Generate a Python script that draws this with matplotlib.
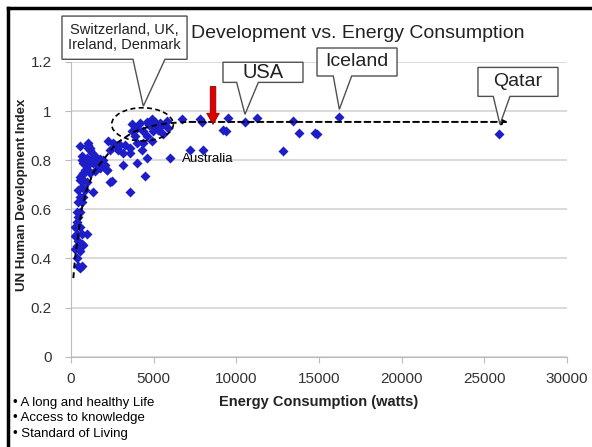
import matplotlib.pyplot as plt
import numpy as np
from matplotlib.patches import Ellipse, Polygon
from matplotlib.lines import Line2D
from matplotlib.ticker import FuncFormatter

plt.rcParams['font.family'] = ['Liberation Sans', 'DejaVu Sans']

# energy use per person (watts) and UN HDI
energy = [242, 544, 343, 645, 948, 746, 242, 544, 343, 645, 443, 544, 343, 443, 242, 645,
          343, 443, 544, 343, 645, 443, 746, 544, 847, 645, 443, 948, 746, 544, 645, 847,
          1048, 1149, 948, 746, 645, 847, 1048, 1149, 1351, 1552, 1653, 1754, 1956, 2056, 2157, 1452,
          1351, 1149, 948, 1250, 1048, 2359, 3568, 1351, 2560, 2359, 2863, 3165, 3568, 3165,
          3972, 4274, 4476, 4577, 4879, 5988, 2964, 3266, 3568, 2661, 2258, 3972, 4375,
          3670, 4173, 4577, 4879, 5383, 5786, 5887, 3670, 4375, 4980, 5282, 5584, 4000, 4700,
          5100, 5500, 3900, 4600, 5000,
          544, 1048, 1149, 645, 847, 1452, 1754, 1956, 2157, 2460, 746, 544,
          6695, 7800, 7900, 9500, 10520, 11250, 13430, 9200, 9400, 7200, 8000, 12830,
          13800, 14760, 14900, 16200, 25900]
hdi = [0.53, 0.53, 0.50, 0.50, 0.50, 0.456, 0.44, 0.43, 0.40, 0.37, 0.37, 0.36, 0.45, 0.47, 0.49, 0.46,
       0.55, 0.57, 0.59, 0.59, 0.63, 0.63, 0.65, 0.65, 0.68, 0.69, 0.68, 0.71, 0.72, 0.73, 0.74, 0.76,
       0.76, 0.75, 0.78, 0.79, 0.80, 0.80, 0.85, 0.84, 0.81, 0.80, 0.78, 0.77, 0.80, 0.78, 0.76, 0.755,
       0.79, 0.79, 0.81, 0.83, 0.87, 0.71, 0.67, 0.67, 0.87, 0.84, 0.84, 0.83, 0.83, 0.78,
       0.79, 0.84, 0.735, 0.81, 0.88, 0.81, 0.86, 0.86, 0.85, 0.864, 0.878, 0.87, 0.87,
       0.946, 0.952, 0.955, 0.966, 0.952, 0.959, 0.932, 0.918, 0.918, 0.918, 0.925, 0.905, 0.93, 0.945,
       0.955, 0.945, 0.90, 0.90, 0.935,
       0.857, 0.864, 0.851, 0.816, 0.789, 0.816, 0.803, 0.775, 0.762, 0.715, 0.749, 0.721,
       0.966, 0.966, 0.955, 0.97, 0.955, 0.97, 0.96, 0.925, 0.92, 0.843, 0.84, 0.837,
       0.909, 0.91, 0.905, 0.977, 0.905]

# hand drawn trend curve
trend_x = [141, 242, 443, 645, 948, 1351, 1754, 2762, 3770, 4778, 5786, 7000, 26600]
trend_y = [0.32, 0.40, 0.50, 0.60, 0.68, 0.75, 0.785, 0.87, 0.915, 0.938, 0.950, 0.956, 0.956]

# callouts: label, box (x0, y0, x1, y1), pointer base x0/x1, tip, font size
callouts = [
    ('Switzerland, UK,\nIreland, Denmark', (-545, 1.211, 7020, 1.387), (3750, 5685), (4373, 1.02), 10.5),
    ('USA', (9193, 1.117, 14031, 1.199), (10020, 11330), (10523, 0.987), 14.5),
    ('Iceland', (14880, 1.143, 19720, 1.257), (15864, 16976), (16230, 1.007), 14),
    ('Qatar', (24615, 1.060, 29455, 1.178), (25540, 26550), (25946, 0.946), 14),
]

fig = plt.figure(figsize=(5.92, 4.47), dpi=100)
ax = fig.add_axes([71 / 592, 90.3 / 447, 496 / 592, 294.7 / 447])

ax.scatter(energy, hdi, marker='D', s=26, color='#1e1ec8', zorder=3, linewidths=0)
ax.plot(trend_x[:-1], trend_y[:-1], color='black', ls=(0, (3, 2)), lw=1.4, zorder=4)
ax.annotate('', xy=(trend_x[-1], trend_y[-1]), xytext=(trend_x[-2], trend_y[-2]),
            arrowprops=dict(arrowstyle='-|>', color='black', lw=1.4, ls=(0, (3, 2)),
                            mutation_scale=9), zorder=4)

ax.add_patch(Ellipse((4324, 0.946), 3730, 0.135, fill=False, ec='black',
                     ls=(0, (3, 2)), lw=1.2, zorder=4))

for label, (x0, y0, x1, y1), (b0, b1), (tx, ty), fs in callouts:
    pts = [(x0, y1), (x1, y1), (x1, y0), (b1, y0), (tx, ty), (b0, y0), (x0, y0)]
    ax.add_patch(Polygon(pts, closed=True, fc='white', ec='#505050', lw=1.0,
                         clip_on=False, zorder=6))
    ax.text((x0 + x1) / 2, (y0 + y1) / 2, label, ha='center', va='center',
            fontsize=fs, color='#222222', zorder=7, clip_on=False, linespacing=1.1)

ax.annotate('', xy=(8590, 0.946), xytext=(8590, 1.10),
            arrowprops=dict(facecolor='#e00000', edgecolor='#900000', lw=0.6,
                            width=4, headwidth=9, headlength=8, shrink=0), zorder=8)
ax.text(6700, 0.805, 'Australia', fontsize=9.5, va='center', color='black')

ax.set_xlim(0, 30000)
ax.set_ylim(0, 1.2)
ax.set_xticks(np.arange(0, 30001, 5000))
ax.set_yticks(np.arange(0, 1.21, 0.2))
ax.yaxis.set_major_formatter(FuncFormatter(lambda v, p: '%g' % round(v, 1)))
ax.grid(axis='y', color='#d4d4d4', lw=1.2)
ax.set_axisbelow(True)
for s in ['top', 'right']:
    ax.spines[s].set_visible(False)
for s in ['left', 'bottom']:
    ax.spines[s].set_color('#bbbbbb')
ax.tick_params(axis='x', colors='#bbbbbb', labelcolor='#333333', length=4, pad=7, labelsize=11)
ax.tick_params(axis='y', colors='#bbbbbb', labelcolor='#333333', length=4, pad=10, labelsize=11)

fig.text(358 / 592, 1 - 33 / 447, 'Development vs. Energy Consumption', ha='center', va='center',
         fontsize=14, color='#222222')
fig.text(22 / 592, 1 - 195 / 447, 'UN Human Development Index', rotation=90, ha='center', va='center',
         fontsize=9.5, fontweight='bold', color='#222222')
fig.text(319 / 592, 1 - 402 / 447, 'Energy Consumption (watts)', ha='center', va='center',
         fontsize=10.5, fontweight='bold', color='#222222')
for i, t in enumerate(['A long and healthy Life', 'Access to knowledge', 'Standard of Living']):
    fig.text(13 / 592, 1 - (403 + 15.5 * i) / 447, '\u2022 ' + t, ha='left', va='center',
             fontsize=9.5, color='black')

fig.add_artist(Line2D([8 / 592, 8 / 592], [0, 1 - 8 / 447], color='black', lw=2.5,
                      transform=fig.transFigure))
fig.add_artist(Line2D([8 / 592, 1], [1 - 8 / 447, 1 - 8 / 447], color='black', lw=2.5,
                      transform=fig.transFigure))

fig.savefig('out.png', dpi=100)
